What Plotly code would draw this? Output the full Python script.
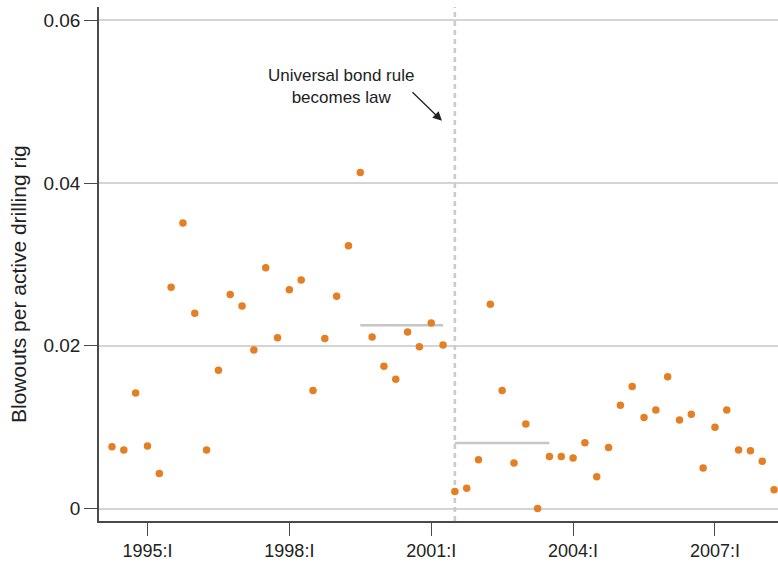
import pandas as pd
import plotly.graph_objects as go

# Quarterly blowout rate, 1994:II - 2008:II
start_quarter = "1994Q2"
end_quarter = "2008Q2"
blowout_rate = [
    0.0076, 0.0072, 0.0142, 0.0077, 0.0043, 0.0272, 0.0351, 0.0240,
    0.0072, 0.0170, 0.0263, 0.0249, 0.0195, 0.0296, 0.0210, 0.0269,
    0.0281, 0.0145, 0.0209, 0.0261, 0.0323, 0.0413, 0.0211, 0.0175,
    0.0159, 0.0217, 0.0199, 0.0228, 0.0201, 0.0021, 0.0025, 0.0060,
    0.0251, 0.0145, 0.0056, 0.0104, 0.0000, 0.0064, 0.0064, 0.0062,
    0.0081, 0.0039, 0.0075, 0.0127, 0.0150, 0.0112, 0.0121, 0.0162,
    0.0109, 0.0116, 0.0050, 0.0100, 0.0121, 0.0072, 0.0071, 0.0058,
    0.0023,
]

# Averaging windows either side of the rule change
law_quarter = "2001Q3"
pre_window = ("1999Q3", "2001Q2")
post_window = ("2001Q3", "2003Q3")

tick_years = [1995, 1998, 2001, 2004, 2007]
tick_labels = ["1995:I", "1998:I", "2001:I", "2004:I", "2007:I"]
y_ticks = [0, 0.02, 0.04, 0.06]
y_tick_labels = ["0", "0.02", "0.04", "0.06"]


def qpos(p):
    p = pd.Period(p, freq="Q")
    return p.year + (p.quarter - 1) / 4


periods = pd.period_range(start_quarter, end_quarter, freq="Q")
series = pd.Series(blowout_rate, index=periods)
x = [qpos(p) for p in periods]

ORANGE = "#E57F24"
GRID = "#d4d4d4"
AXIS = "#4a4a4a"
TEXT = "#222222"
FONT = "Liberation Sans, Arial, sans-serif"

y_lo, y_hi = -0.00153, 0.06165
x_lo, x_hi = 1993.975, 2008.333

fig = go.Figure()

# Rule-change marker
law_x = qpos(law_quarter)
fig.add_trace(go.Scatter(
    x=[law_x, law_x], y=[y_lo, y_hi], mode="lines",
    line=dict(color="#cbcbcb", width=2.6, dash="5px,4px"),
    hoverinfo="skip", showlegend=False, cliponaxis=False,
))

# Period means
for a, b in (pre_window, post_window):
    seg = series[pd.Period(a, freq="Q"):pd.Period(b, freq="Q")]
    m = float(seg.mean())
    fig.add_trace(go.Scatter(
        x=[qpos(a), qpos(b)], y=[m, m], mode="lines",
        line=dict(color="#c6c6c6", width=2.6),
        hoverinfo="skip", showlegend=False,
    ))

fig.add_trace(go.Scatter(
    x=x, y=blowout_rate, mode="markers",
    marker=dict(color=ORANGE, size=7.5, line=dict(width=0)),
    showlegend=False, cliponaxis=False,
))

# Label text
fig.add_annotation(
    x=1995 + (341 - 147.5) / 47.29, y=(508.3 - 87) / 8127,
    xref="x", yref="y",
    text="Universal bond rule<br>becomes law",
    showarrow=False, align="center",
    font=dict(family=FONT, size=17, color=TEXT),
)
# Arrow pointing at the law date
fig.add_annotation(
    x=1995 + (442 - 147.5) / 47.29, y=(508.3 - 121) / 8127,
    xref="x", yref="y", text="",
    showarrow=True, ax=-31, ay=-30,
    arrowhead=2, arrowsize=1.4, arrowwidth=1.3, arrowcolor=TEXT,
)

# Y-axis title
fig.add_annotation(
    x=(18 - 99) / 679, y=(520.7 - 284) / 513.4,
    xref="paper", yref="paper",
    text="Blowouts per active drilling rig", textangle=-90,
    showarrow=False, xanchor="center", yanchor="middle",
    font=dict(family=FONT, size=21, color=TEXT),
)

fig.update_layout(
    width=778, height=565,
    margin=dict(l=99, r=0, t=7, b=44),
    paper_bgcolor="white", plot_bgcolor="white",
    font=dict(family=FONT, size=18, color=TEXT),
    xaxis=dict(
        range=[x_lo, x_hi], tickvals=tick_years, ticktext=tick_labels,
        showgrid=False, zeroline=False,
        showline=True, linecolor=AXIS, linewidth=1.5,
        ticks="outside", ticklen=13, tickwidth=1.3, tickcolor=AXIS,
        tickfont=dict(family=FONT, size=18, color=TEXT),
    ),
    yaxis=dict(
        range=[y_lo, y_hi], tickvals=y_ticks, ticktext=y_tick_labels,
        showgrid=True, gridcolor=GRID, gridwidth=1.5, zeroline=False,
        showline=True, linecolor=AXIS, linewidth=1.5,
        ticks="outside", ticklen=13, tickwidth=1.3, tickcolor=AXIS,
        tickfont=dict(family=FONT, size=19, color=TEXT),
    ),
)

fig.write_html("out.html")
